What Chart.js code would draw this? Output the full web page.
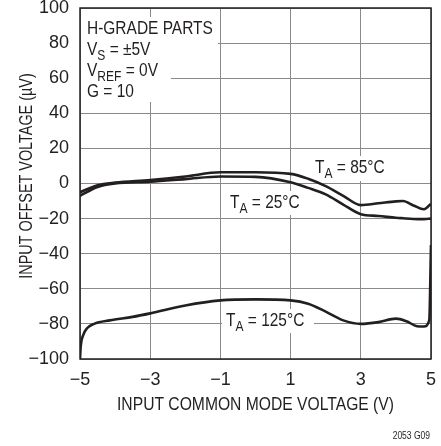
<!DOCTYPE html>
<html>
<head>
<meta charset="utf-8">
<script src="https://cdn.jsdelivr.net/npm/chart.js@4/dist/chart.umd.min.js"></script>
<style>
  html, body { margin: 0; padding: 0; background: #fff; }
  #wrap { width: 441px; height: 446px; position: relative; }
</style>
</head>
<body>
<div id="wrap"><canvas id="chart" width="441" height="446"></canvas></div>
<script>
// ---- data ----
const xTicks = [-5, -3, -1, 1, 3, 5];
const yTicks = [-100, -80, -60, -40, -20, 0, 20, 40, 60, 80, 100];

const xMid = [-5, -4.5, -4, -3, -2, -1, 0, 1, 1.5, 2, 2.5, 3, 3.5, 4, 4.2, 4.5, 4.8, 5];
const vos85 = [-5, -1, 0.5, 2, 4, 6.4, 6.4, 5.5, 2.7, -1.5, -7, -12.3, -11.3, -10.2, -10, -12.5, -14.7, -11.5];
const vos25 = [-7, -2, 0, 1, 2.5, 4, 3.8, 0.7, -2.5, -6.2, -12, -17.5, -18.5, -19.5, -19.8, -20.2, -20.3, -20];

const xHot = [-5, -4.98, -4.9, -4.8, -4.6, -4.15, -3.5, -3, -2, -1, 0, 1, 1.5, 2, 2.5, 3, 3.5, 4, 4.3, 4.6, 4.8, 4.95, 5];
const vos125 = [-100, -93, -86, -82.5, -80, -78, -76, -74, -69.5, -66.6, -66, -66.6, -68.5, -73, -78, -80, -79, -77, -78.5, -81.3, -81.5, -78, -35];

const xTitle = 'INPUT COMMON MODE VOLTAGE (V)';
const yTitle = 'INPUT OFFSET VOLTAGE (\u00b5V)';

const FONT = "'Liberation Sans', Arial, sans-serif";
const INK = '#231f20';

function pts(xs, ys) { return xs.map((x, i) => ({ x: x, y: ys[i] })); }
function minus(v) { return v < 0 ? '\u2212' + Math.abs(v) : String(v); }

// narrow-looking text: Liberation Sans squeezed horizontally
function drawRich(ctx, x, y, parts, size, sx) {
  ctx.save();
  ctx.translate(x, y);
  ctx.scale(sx, 1);
  let cx = 0;
  parts.forEach(p => {
    const s = p.sub ? 14 : size;
    ctx.font = s + 'px ' + FONT;
    ctx.fillText(p.t, cx, p.sub ? 5 : 0);
    cx += ctx.measureText(p.t).width;
  });
  ctx.restore();
}

const labelsPlugin = {
  id: 'labels',
  beforeDatasetsDraw(chart) {
    const ctx = chart.ctx;
    ctx.save();
    // white patches behind the text block
    ctx.fillStyle = '#fff';
    ctx.fillRect(81, 17, 137, 45);
    ctx.fillRect(81, 62, 90, 20);
    ctx.fillRect(81, 82, 74, 20);
    ctx.fillRect(312, 156, 79, 25);
    ctx.fillRect(227, 191, 79, 24);
    ctx.fillRect(222, 309, 92, 24);

    ctx.fillStyle = INK;
    ctx.textBaseline = 'alphabetic';
    ctx.textAlign = 'left';
    const sz = 18, sx = 0.86;
    drawRich(ctx, 87, 34, [{ t: 'H-GRADE PARTS' }], sz, sx);
    drawRich(ctx, 87, 55, [{ t: 'V' }, { t: 'S', sub: true }, { t: ' = \u00b15V' }], sz, sx);
    drawRich(ctx, 87, 76, [{ t: 'V' }, { t: 'REF', sub: true }, { t: ' = 0V' }], sz, sx);
    drawRich(ctx, 87, 97, [{ t: 'G = 10' }], sz, sx);

    drawRich(ctx, 315, 173, [{ t: 'T' }, { t: 'A', sub: true }, { t: ' = 85\u00b0C' }], sz, sx);
    drawRich(ctx, 230, 208, [{ t: 'T' }, { t: 'A', sub: true }, { t: ' = 25\u00b0C' }], sz, sx);
    drawRich(ctx, 226, 326, [{ t: 'T' }, { t: 'A', sub: true }, { t: ' = 125\u00b0C' }], sz, sx);
    ctx.restore();
  },
  afterDraw(chart) {
    const ctx = chart.ctx;
    const a = chart.chartArea;
    ctx.save();
    ctx.strokeStyle = INK;
    ctx.lineWidth = 1.5;
    ctx.strokeRect(a.left, a.top, a.right - a.left, a.bottom - a.top);

    ctx.fillStyle = INK;
    ctx.textBaseline = 'alphabetic';
    ctx.textAlign = 'center';
    ctx.font = '18px ' + FONT;
    // x axis title
    ctx.save();
    ctx.translate((a.left + a.right) / 2, 410);
    ctx.scale(0.87, 1);
    ctx.fillText(xTitle, 0, 0);
    ctx.restore();
    // y axis title
    ctx.save();
    ctx.translate(32, 176);
    ctx.rotate(-Math.PI / 2);
    ctx.scale(0.8, 1);
    ctx.fillText(yTitle, 0, 0);
    ctx.restore();

    ctx.font = '10px ' + FONT;
    ctx.textAlign = 'right';
    ctx.save();
    ctx.translate(430, 439);
    ctx.scale(0.85, 1);
    ctx.fillText('2053 G09', 0, 0);
    ctx.restore();
    ctx.restore();
  }
};

const lineStyle = {
  borderColor: INK,
  borderWidth: 2.6,
  pointRadius: 0,
  fill: false,
  cubicInterpolationMode: 'monotone'
};

new Chart(document.getElementById('chart'), {
  type: 'line',
  data: {
    datasets: [
      Object.assign({ label: 'TA = 85°C', data: pts(xMid, vos85) }, lineStyle),
      Object.assign({ label: 'TA = 25°C', data: pts(xMid, vos25) }, lineStyle),
      Object.assign({ label: 'TA = 125°C', data: pts(xHot, vos125) }, lineStyle)
    ]
  },
  options: {
    responsive: false,
    animation: false,
    layout: { autoPadding: false, padding: { top: 8, right: 10, left: 0, bottom: 0 } },
    plugins: { legend: { display: false }, tooltip: { enabled: false } },
    scales: {
      x: {
        type: 'linear',
        min: -5, max: 5,
        afterBuildTicks: s => { s.ticks = xTicks.map(v => ({ value: v })); },
        afterFit: s => { s.height = 87; s.paddingLeft = 0; s.paddingRight = 0; },
        grid: { color: '#8a8a8a', lineWidth: 1, drawTicks: false },
        border: { display: false },
        ticks: { color: INK, font: { family: FONT, size: 18 }, padding: 10, maxRotation: 0, callback: v => minus(v) }
      },
      y: {
        type: 'linear',
        min: -100, max: 100,
        afterBuildTicks: s => { s.ticks = yTicks.map(v => ({ value: v })); },
        afterFit: s => { s.width = 80; s.paddingTop = 0; s.paddingBottom = 0; },
        grid: { color: '#8a8a8a', lineWidth: 1, drawTicks: false },
        border: { display: false },
        ticks: { color: INK, font: { family: FONT, size: 18 }, padding: 11, callback: v => minus(v) }
      }
    }
  },
  plugins: [labelsPlugin]
});
</script>
</body>
</html>
